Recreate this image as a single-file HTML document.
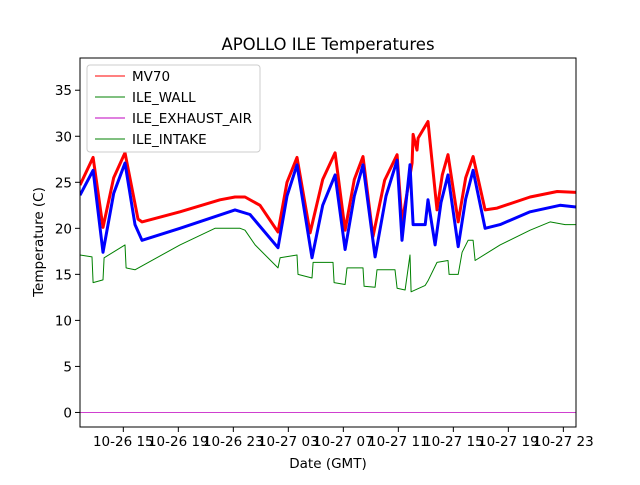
<!DOCTYPE html>
<html><head><meta charset="utf-8"><style>
body{margin:0;background:#fff}
svg{font-family:"DejaVu Sans","Liberation Sans",sans-serif}
</style></head><body>
<svg id="chart" width="640" height="480" viewBox="0 0 640 480">
<rect width="640" height="480" fill="#fff"/>
<text x="328" y="50" text-anchor="middle" font-size="16.5">APOLLO ILE Temperatures</text>
<g id="plot"></g>
<g id="axes"></g>
<rect x="80" y="58" width="496" height="369" fill="none" stroke="#000" stroke-width="1"/>
<text x="328" y="468" text-anchor="middle" font-size="13.5">Date (GMT)</text>
<text x="43" y="242" text-anchor="middle" font-size="13.5" transform="rotate(-90 43 242)">Temperature (C)</text>
<g>
<rect x="87" y="65" width="173" height="87" rx="3" fill="#fff" fill-opacity="0.85" stroke="#ccc"/>
<g><line x1="95" y1="76" x2="125" y2="76" stroke="red" stroke-width="1"/><text x="132" y="81" font-size="13.5">MV70</text></g>
<g><line x1="95" y1="97" x2="125" y2="97" stroke="green" stroke-width="1"/><text x="132" y="102" font-size="13.5">ILE_WALL</text></g>
<g><line x1="95" y1="118" x2="125" y2="118" stroke="#bf00bf" stroke-width="1"/><text x="132" y="123" font-size="13.5">ILE_EXHAUST_AIR</text></g>
<g><line x1="95" y1="139" x2="125" y2="139" stroke="green" stroke-width="1"/><text x="132" y="144" font-size="13.5">ILE_INTAKE</text></g>
</g>
</svg>
<script>
const xTickHours=[15,19,23,27,31,35,39,43,47];
const xTickLabels=["10-26 15","10-26 19","10-26 23","10-27 03","10-27 07","10-27 11","10-27 15","10-27 19","10-27 23"];
const yTicks=[0,5,10,15,20,25,30,35];
const redT=[11.85,12.80,13.52,14.3,15.12,16.07,16.36,19.12,22.03,23.12,23.85,24.94,26.25,26.9,27.63,28.58,29.5,30.40,31.13,31.8,32.43,33.16,34.0,34.91,35.27,36.00,36.07,36.36,36.44,37.16,37.81,38.2,38.61,39.35,39.9,40.44,41.31,42.18,44.58,46.55,48.0];
const redV=[24.7,27.7,20.1,25.5,28.2,21.0,20.7,21.8,23.1,23.4,23.4,22.5,19.6,25.0,27.7,19.5,25.3,28.2,19.8,25.3,27.8,19.1,25.2,28.0,20.6,27.1,30.2,28.5,29.8,31.6,22.0,25.8,28.0,20.7,25.5,27.8,22.0,22.2,23.4,24.0,23.9];
const blueT=[11.85,12.80,13.52,14.3,15.12,15.85,16.36,19.12,23.12,24.21,26.25,26.9,27.63,28.72,29.5,30.40,31.13,31.8,32.43,33.31,34.1,34.91,35.27,35.85,36.07,36.95,37.16,37.67,38.1,38.61,39.35,39.9,40.44,41.31,42.40,44.58,46.76,48.0];
const blueV=[23.6,26.3,17.4,23.8,27.1,20.4,18.7,20.0,22.0,21.5,17.9,23.5,26.9,16.8,22.5,25.8,17.7,23.5,26.9,16.9,23.5,27.4,18.7,26.9,20.4,20.4,23.1,18.2,22.8,25.8,18.0,23.2,26.3,20.0,20.4,21.8,22.5,22.3];
const greenT=[11.85,12.72,12.80,13.52,13.60,15.12,15.20,15.85,19.12,21.67,23.49,23.85,24.58,26.25,26.40,27.63,27.70,28.72,28.80,30.25,30.33,31.13,31.27,32.43,32.51,33.31,33.45,34.76,34.91,35.49,35.85,35.93,36.95,37.16,37.81,38.61,38.69,39.35,39.64,40.07,40.44,40.58,42.40,44.58,46.04,47.13,48.0];
const greenV=[17.1,16.9,14.1,14.4,16.8,18.2,15.7,15.5,18.2,20.0,20.0,19.8,18.2,15.7,16.8,17.1,15.0,14.6,16.3,16.3,14.1,13.9,15.7,15.7,13.7,13.6,15.5,15.5,13.5,13.3,17.1,13.1,13.8,14.3,16.3,16.5,15.0,15.0,17.4,18.7,18.7,16.5,18.2,19.8,20.7,20.4,20.4];
const exhaustT=[11.85,48.0];
const exhaustV=[0,0];

const X0=80,X1=576,Y0=58,Y1=427;
const tMin=11.85,tMax=47.92,vMin=-1.58,vMax=38.5;
const sx=t=>X0+(t-tMin)/(tMax-tMin)*(X1-X0);
const sy=v=>Y1-(v-vMin)/(vMax-vMin)*(Y1-Y0);
const NS="http://www.w3.org/2000/svg";
const plot=document.getElementById('plot');
const axes=document.getElementById('axes');
const clip=document.createElementNS(NS,'clipPath');clip.id='c';
const cr=document.createElementNS(NS,'rect');
cr.setAttribute('x',X0);cr.setAttribute('y',Y0);cr.setAttribute('width',X1-X0);cr.setAttribute('height',Y1-Y0);
clip.appendChild(cr);plot.appendChild(clip);
plot.setAttribute('clip-path','url(#c)');
function line(ts,vs,color,w,name){
  const p=document.createElementNS(NS,'polyline');
  p.setAttribute('points',ts.map((t,i)=>sx(t).toFixed(1)+','+sy(vs[i]).toFixed(1)).join(' '));
  p.setAttribute('fill','none');p.setAttribute('stroke',color);p.setAttribute('stroke-width',w);
  p.setAttribute('stroke-linejoin','round');
  
  
  plot.appendChild(p);
}
line(redT,redV,'red',3,'series-mv70');
line(blueT,blueV,'blue',3,'series-blue');
line(greenT,greenV,'green',1,'series-ile-intake');
line(exhaustT,exhaustV,'#bf00bf',0.8,'series-ile-exhaust-air');
xTickHours.forEach((h,i)=>{
  const x=sx(h);
  const l=document.createElementNS(NS,'line');
  l.setAttribute('x1',x);l.setAttribute('x2',x);l.setAttribute('y1',Y1);l.setAttribute('y2',Y1+5);l.setAttribute('stroke','#000');
  
  
  axes.appendChild(l);
  const t=document.createElementNS(NS,'text');
  t.setAttribute('x',x);t.setAttribute('y',Y1+19);t.setAttribute('text-anchor','middle');t.setAttribute('font-size','13.5');
  t.textContent=xTickLabels[i];
  
  
  axes.appendChild(t);
});
yTicks.forEach(v=>{
  const y=sy(v);
  const l=document.createElementNS(NS,'line');
  l.setAttribute('x1',X0-5);l.setAttribute('x2',X0);l.setAttribute('y1',y);l.setAttribute('y2',y);l.setAttribute('stroke','#000');
  
  
  axes.appendChild(l);
  const t=document.createElementNS(NS,'text');
  t.setAttribute('x',X0-8);t.setAttribute('y',y+5);t.setAttribute('text-anchor','end');t.setAttribute('font-size','13.5');
  t.textContent=v;
  
  
  axes.appendChild(t);
});
</script>
</body></html>
